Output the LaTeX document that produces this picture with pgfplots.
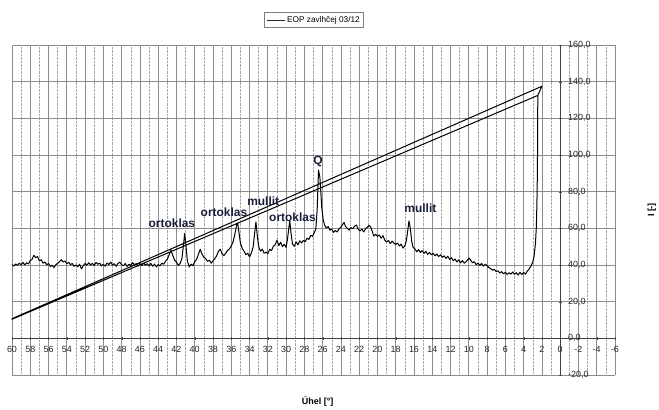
\documentclass[border=0pt]{standalone}
\usepackage{fontspec}
\setmainfont{Liberation Sans}
\usepackage{pgfplots}
\pgfplotsset{compat=1.18}
\definecolor{annot}{RGB}{25,30,60}
\begin{document}
\begin{tikzpicture}
\begin{axis}[
  scale only axis, width=603bp, height=330bp,
  at={(0,0)}, anchor=south west,
  xmin=-6, xmax=60, ymin=-20, ymax=160, x dir=reverse,
  axis lines=middle, axis line style={-, black!75, line width=0.6bp},
  hide obscured x ticks=false, hide obscured y ticks=false,
  xtick={-6,-4,...,60}, minor xtick={-5,-3,...,59},
  xticklabels={-6,-4,-2,0,2,4,6,8,10,12,14,16,18,20,22,24,26,28,30,32,34,36,38,40,42,44,46,48,50,52,54,56,58,60},
  ytick={-20,0,...,160},
  yticklabels={{-20,0},{0,0},{20,0},{40,0},{60,0},{80,0},{100,0},{120,0},{140,0},{160,0}},
  grid=both,
  major grid style={black!45, line width=0.7bp},
  minor grid style={black!35, densely dotted, line width=0.5bp},
  major tick length=3bp, minor tick length=0bp,
  tick style={black!70},
  x tick label style={font=\fontsize{9}{10}\selectfont, text=black!85, anchor=north, yshift=-3bp},
  y tick label style={font=\fontsize{9}{10}\selectfont, text=black!85, anchor=west, xshift=6bp},
  clip=false,
  legend style={at={(axis description cs:0.501,1.076)}, anchor=center, draw=black!50, line width=0.5bp,
    font=\fontsize{8.3}{9}\selectfont, inner sep=1.8bp, legend cell align=left},
  legend image code/.code={\draw[black!85, line width=0.8bp] (0bp,0bp) -- (18bp,0bp);},
]
\addplot[black, line width=1bp, mark=none, line join=round] table {
x y
60.0 40.2
59.8 39.4
59.6 40.6
59.4 39.8
59.2 41.0
59.0 40.1
58.8 41.4
58.6 40.0
58.4 41.2
58.2 40.6
58.0 42.4
57.8 43.1
57.6 45.3
57.4 44.0
57.2 44.6
57.0 42.2
56.8 42.9
56.6 41.0
56.4 41.6
56.2 40.1
56.0 40.8
55.8 39.2
55.6 39.9
55.4 38.6
55.2 40.2
55.0 40.9
54.8 41.8
54.6 42.9
54.4 41.6
54.2 42.2
54.0 40.6
53.8 41.5
53.6 40.2
53.4 40.8
53.2 39.3
53.0 40.0
52.8 39.1
52.6 40.4
52.4 37.9
52.2 39.6
52.0 40.8
51.8 39.9
51.6 41.2
51.4 40.0
51.2 40.9
51.0 39.8
50.8 41.4
50.6 40.4
50.4 41.0
50.2 39.5
50.0 40.3
49.8 39.4
49.6 41.1
49.4 40.2
49.2 41.6
49.0 40.0
48.8 40.7
48.6 39.3
48.4 40.9
48.2 41.5
48.0 40.2
47.8 39.6
47.6 40.8
47.4 39.2
47.2 40.4
47.0 39.8
46.8 41.3
46.6 40.1
46.4 40.8
46.2 39.4
46.0 40.6
45.8 39.6
45.6 41.0
45.4 39.9
45.2 40.7
45.0 39.5
44.8 40.9
44.6 39.3
44.4 40.5
44.2 39.0
44.0 40.2
43.8 39.6
43.6 41.0
43.4 40.4
43.2 42.0
43.0 43.2
42.8 45.5
42.6 48.0
42.4 45.2
42.2 42.6
42.0 41.6
41.8 39.8
41.6 40.8
41.4 43.5
41.25 50.0
41.1 57.2
40.95 50.0
40.8 42.0
40.6 39.0
40.4 40.5
40.2 39.6
40.0 41.8
39.8 43.0
39.6 45.8
39.4 48.5
39.2 46.0
39.0 44.2
38.8 43.5
38.6 42.0
38.4 42.6
38.2 41.0
38.0 42.2
37.8 43.5
37.6 45.0
37.4 47.5
37.2 48.6
37.0 46.0
36.8 45.2
36.6 46.5
36.4 48.0
36.2 48.8
36.0 50.4
35.8 52.6
35.6 57.0
35.4 62.0
35.3 63.0
35.15 57.5
35.0 52.0
34.8 49.0
34.6 47.5
34.4 45.6
34.2 46.4
34.0 44.4
33.8 46.5
33.6 50.0
33.45 57.0
33.3 63.5
33.15 56.0
33.0 50.0
32.8 47.6
32.6 48.6
32.4 46.4
32.2 47.0
32.0 46.2
31.8 48.5
31.6 47.8
31.4 50.2
31.2 51.0
31.0 53.5
30.8 50.6
30.6 52.4
30.4 50.0
30.2 51.3
30.0 49.6
29.85 54.0
29.7 60.0
29.6 64.0
29.45 57.0
29.3 51.5
29.1 50.2
28.9 52.6
28.7 51.0
28.5 53.2
28.3 52.0
28.1 53.4
27.9 52.8
27.7 54.6
27.5 54.0
27.3 56.2
27.1 55.6
26.9 57.8
26.75 59.5
26.6 70.0
26.45 91.7
26.3 88.0
26.2 80.0
26.1 71.7
25.95 65.0
25.8 62.0
25.6 60.2
25.4 61.0
25.2 59.0
25.0 59.6
24.8 57.8
24.6 58.8
24.4 58.0
24.2 59.8
24.0 60.6
23.8 62.2
23.65 63.2
23.5 61.0
23.3 60.0
23.1 59.0
22.9 60.4
22.7 59.8
22.5 61.2
22.3 61.8
22.1 59.4
21.9 58.6
21.7 59.6
21.5 58.0
21.3 59.8
21.1 60.6
20.9 61.6
20.75 60.8
20.6 58.8
20.4 55.8
20.2 56.8
20.0 55.6
19.8 56.4
19.6 54.6
19.4 56.0
19.2 53.6
19.0 52.6
18.8 53.4
18.6 51.6
18.4 53.0
18.2 52.0
18.0 51.2
17.8 52.0
17.6 50.4
17.4 51.4
17.2 49.2
17.0 50.6
16.85 53.0
16.7 58.0
16.55 64.0
16.4 60.0
16.25 53.0
16.1 49.6
15.9 48.8
15.7 47.2
15.5 48.4
15.3 46.8
15.1 47.8
14.9 46.4
14.7 47.4
14.5 45.8
14.3 46.9
14.1 45.6
13.9 46.4
13.7 45.0
13.5 46.0
13.3 44.6
13.1 45.6
12.9 44.2
12.7 45.0
12.5 43.6
12.3 44.8
12.1 43.0
11.9 44.0
11.7 42.4
11.5 43.2
11.3 41.6
11.1 42.8
10.9 41.2
10.7 42.4
10.5 41.0
10.3 41.8
10.1 43.0
9.95 43.8
9.8 42.6
9.6 41.2
9.4 41.8
9.2 40.2
9.0 41.0
8.8 39.8
8.6 40.8
8.4 39.4
8.2 40.4
8.0 39.6
7.8 38.6
7.6 38.0
7.4 37.2
7.2 37.6
7.0 36.4
6.8 36.8
6.6 35.6
6.4 36.4
6.2 35.2
6.0 36.0
5.8 34.8
5.6 35.8
5.4 35.0
5.2 36.2
5.0 34.9
4.8 35.8
4.6 34.5
4.4 36.0
4.2 34.8
4.0 35.9
3.8 35.0
3.6 36.6
3.4 37.8
3.2 39.4
3.0 41.6
2.85 45.0
2.7 52.0
2.6 62.0
2.52 80.0
2.47 105.0
2.45 132.5
60.0 10.4
60.0 10.7
2.0 137.5
2.45 132.5
};
\addlegendentry{EOP zavlhčej 03/12}
\node[font=\fontsize{12}{13}\selectfont\bfseries, text=annot] at (axis cs:42.5,62.6) {ortoklas};
\node[font=\fontsize{12}{13}\selectfont\bfseries, text=annot] at (axis cs:36.8,68.6) {ortoklas};
\node[font=\fontsize{12}{13}\selectfont\bfseries, text=annot] at (axis cs:32.5,74.9) {mullit};
\node[font=\fontsize{12}{13}\selectfont\bfseries, text=annot] at (axis cs:29.3,66.2) {ortoklas};
\node[font=\fontsize{12}{13}\selectfont\bfseries, text=annot] at (axis cs:26.5,96.2) {Q};
\node[font=\fontsize{12}{13}\selectfont\bfseries, text=annot] at (axis cs:15.3,71.1) {mullit};
\node[font=\fontsize{9}{10}\selectfont\bfseries] at (axis description cs:0.507,-0.079) {Úhel [°]};
\node[font=\fontsize{9}{10}\selectfont\bfseries, rotate=90] at (axis description cs:1.061,0.5) {I [-]};
\end{axis}
\pgfresetboundingbox
\useasboundingbox (-12bp,-35bp) rectangle (647bp,375bp);
\end{tikzpicture}
\end{document}
